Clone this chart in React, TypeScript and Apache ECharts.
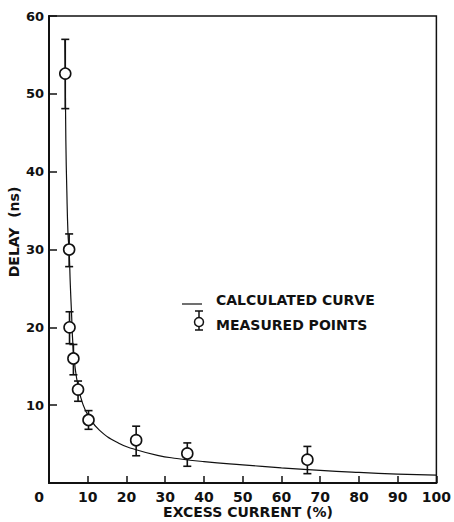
import React, { useEffect, useRef } from 'react';
import * as echarts from 'echarts';

// Measured points (open circles with error bars)
const pointX = [4.2, 5.2, 5.3, 6.3, 7.5, 10.2, 22.5, 35.7, 66.7];
const pointY = [52.6, 30, 20, 16, 12, 8.1, 5.5, 3.8, 3.0];
const pointLow = [48.1, 27.8, 17.9, 13.9, 10.5, 6.9, 3.5, 2.15, 1.2];
const pointHigh = [57, 32, 22, 17.8, 13.1, 9.3, 7.3, 5.15, 4.7];

// Calculated curve
const curveX = [4.1, 4.2, 4.35, 4.6, 4.9, 5.2, 5.5, 5.8, 6.2, 6.8, 7.5, 8.7, 10.2, 13, 18, 22.3, 28, 33, 40, 50, 60, 70, 80, 90, 100];
const curveY = [57, 52.6, 44, 37.6, 32.1, 29.8, 25.5, 22, 17.6, 14.6, 12.5, 10.2, 8.6, 6.8, 5.1, 4.3, 3.55, 3.15, 2.75, 2.33, 1.95, 1.62, 1.36, 1.15, 1.0];

const xMin = 0, xMax = 100, xStep = 10;
const yMin = 0, yMax = 60, yStep = 10;

const xName = 'EXCESS CURRENT (%)';
const yName = 'DELAY  (ns)';
const legendCurve = 'CALCULATED CURVE';
const legendPoints = 'MEASURED POINTS';

const FONT = '"DejaVu Sans", sans-serif';
const INK = '#111';

export default function App() {
  const ref = useRef<HTMLDivElement>(null);
  useEffect(() => {
    if (!ref.current) return;
    const chart = echarts.init(ref.current, null, { renderer: 'svg' });
    const pts = pointX.map((x, i) => [x, pointY[i], pointLow[i], pointHigh[i]]);
    const curve = curveX.map((x, i) => [x, curveY[i]]);
    chart.setOption({
      animation: false,
      backgroundColor: '#fff',
      grid: {
        left: 49, top: 16, right: 12, bottom: 39,
        show: true, borderColor: INK, borderWidth: 1.5, backgroundColor: 'transparent',
      },
      xAxis: {
        type: 'value', min: xMin, max: xMax, interval: xStep,
        axisLine: { show: true, onZero: false, lineStyle: { color: INK, width: 2 } },
        axisTick: { show: true, inside: true, length: 7, lineStyle: { color: INK, width: 1.5 } },
        splitLine: { show: false },
        axisLabel: {
          color: INK, fontFamily: FONT, fontWeight: 'bold', fontSize: 14, margin: 7,
          formatter: (v: number) => (v === 0 ? '{z|0}' : String(v)),
          rich: { z: { color: INK, fontFamily: FONT, fontWeight: 'bold', fontSize: 14, padding: [0, 20, 0, 0] } },
        },
      },
      yAxis: {
        type: 'value', min: yMin, max: yMax, interval: yStep,
        axisLine: { show: true, onZero: false, lineStyle: { color: INK, width: 2 } },
        axisTick: { show: true, inside: true, length: 8, lineStyle: { color: INK, width: 1.5 } },
        splitLine: { show: false },
        axisLabel: {
          color: INK, fontFamily: FONT, fontWeight: 'bold', fontSize: 13, margin: 5,
          showMinLabel: false,
        },
      },
      graphic: [
        {
          type: 'text', x: 14, y: 232, rotation: Math.PI / 2,
          style: { text: yName, fill: INK, font: `bold 14px ${FONT}`, align: 'center', verticalAlign: 'middle' },
        },
        {
          type: 'text', x: 248, y: 512,
          style: { text: xName, fill: INK, font: `bold 14px ${FONT}`, align: 'center', verticalAlign: 'middle' },
        },
        // legend
        { type: 'line', shape: { x1: 182, y1: 304, x2: 202, y2: 304 }, style: { stroke: INK, lineWidth: 1.2 } },
        {
          type: 'text', x: 216, y: 300,
          style: { text: legendCurve, fill: INK, font: `bold 14px ${FONT}`, align: 'left', verticalAlign: 'middle' },
        },
        { type: 'line', shape: { x1: 199, y1: 311, x2: 199, y2: 330 }, style: { stroke: INK, lineWidth: 1.5 } },
        { type: 'line', shape: { x1: 195, y1: 311, x2: 203, y2: 311 }, style: { stroke: INK, lineWidth: 1.5 } },
        { type: 'line', shape: { x1: 195, y1: 330, x2: 203, y2: 330 }, style: { stroke: INK, lineWidth: 1.5 } },
        { type: 'circle', shape: { cx: 199, cy: 322, r: 4.5 }, style: { fill: '#fff', stroke: INK, lineWidth: 1.5 } },
        {
          type: 'text', x: 216, y: 325,
          style: { text: legendPoints, fill: INK, font: `bold 14px ${FONT}`, align: 'left', verticalAlign: 'middle' },
        },
      ],
      series: [
        {
          type: 'line', data: curve, smooth: 0.5, showSymbol: false,
          lineStyle: { color: INK, width: 1.2 }, silent: true, z: 2,
        },
        {
          type: 'custom', data: pts, z: 3,
          encode: { x: 0, y: [1, 2, 3] },
          renderItem: (params: any, api: any) => {
            const x = api.value(0);
            const c = api.coord([x, api.value(1)]);
            const lo = api.coord([x, api.value(2)]);
            const hi = api.coord([x, api.value(3)]);
            const hw = 4;
            const st = { stroke: INK, lineWidth: 1.6 };
            return {
              type: 'group',
              children: [
                { type: 'line', shape: { x1: c[0], y1: lo[1], x2: c[0], y2: hi[1] }, style: st },
                { type: 'line', shape: { x1: c[0] - hw, y1: lo[1], x2: c[0] + hw, y2: lo[1] }, style: st },
                { type: 'line', shape: { x1: c[0] - hw, y1: hi[1], x2: c[0] + hw, y2: hi[1] }, style: st },
                { type: 'circle', shape: { cx: c[0], cy: c[1], r: 5.5 }, style: { fill: '#fff', stroke: INK, lineWidth: 1.6 } },
              ],
            };
          },
        },
      ],
    });
    return () => chart.dispose();
  }, []);
  return <div ref={ref} style={{ width: 454, height: 522, position: 'absolute', left: 0, top: 0 }} />;
}
